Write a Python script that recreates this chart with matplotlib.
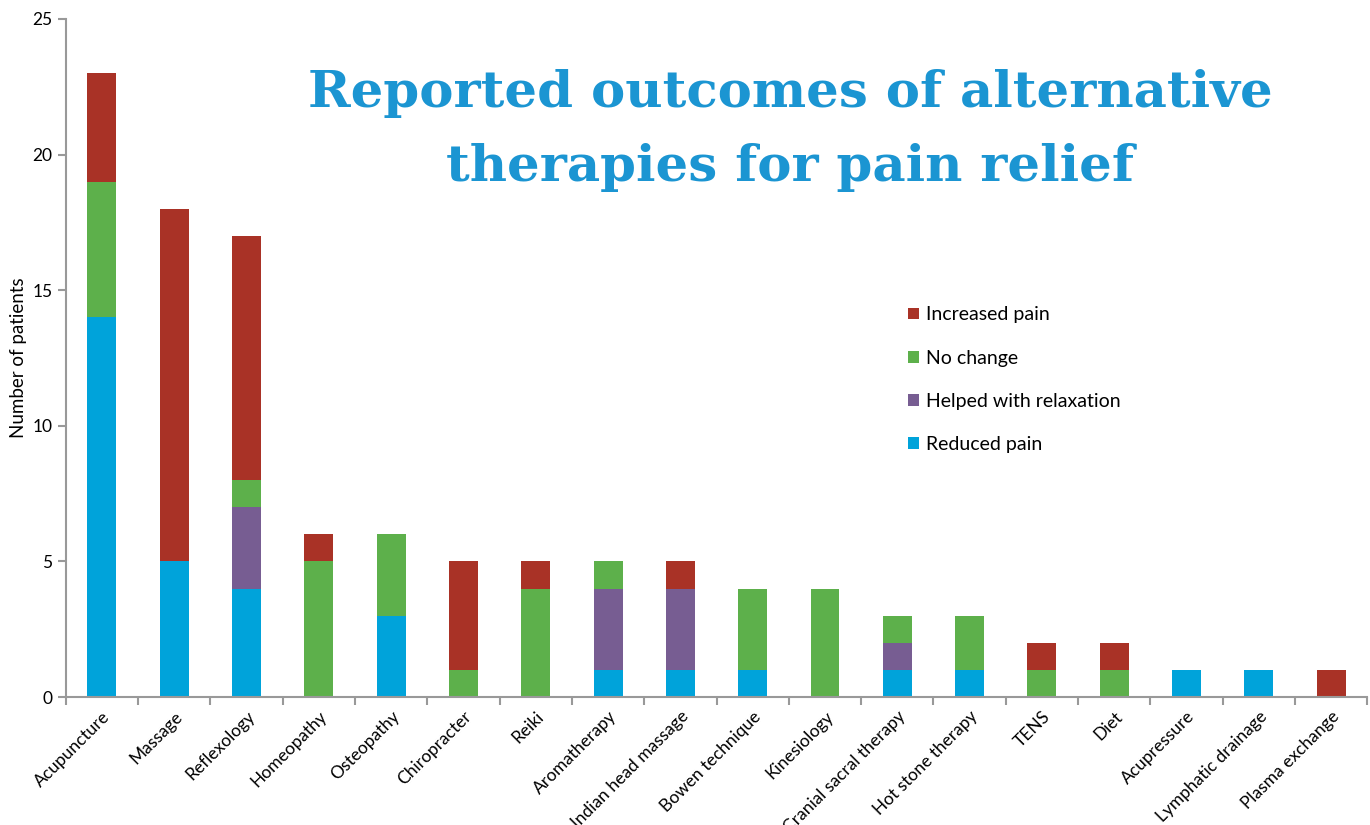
import matplotlib
matplotlib.use("Agg")
import matplotlib.pyplot as plt
import numpy as np

plt.rcParams['font.family'] = ['Lato', 'DejaVu Sans']

therapies = ['Acupuncture', 'Massage', 'Reflexology', 'Homeopathy', 'Osteopathy',
             'Chiropracter', 'Reiki', 'Aromatherapy', 'Indian head massage',
             'Bowen technique', 'Kinesiology', 'Cranial sacral therapy',
             'Hot stone therapy', 'TENS', 'Diet', 'Acupressure',
             'Lymphatic drainage', 'Plasma exchange']
reduced = [14, 5, 4, 0, 3, 0, 0, 1, 1, 1, 0, 1, 1, 0, 0, 1, 1, 0]
relaxation = [0, 0, 3, 0, 0, 0, 0, 3, 3, 0, 0, 1, 0, 0, 0, 0, 0, 0]
no_change = [5, 0, 1, 5, 3, 1, 4, 1, 0, 3, 4, 1, 2, 1, 1, 0, 0, 0]
increased = [4, 13, 9, 1, 0, 4, 1, 0, 1, 0, 0, 0, 0, 1, 1, 0, 0, 1]

series = [('Reduced pain', reduced, '#00a3da'),
          ('Helped with relaxation', relaxation, '#775d92'),
          ('No change', no_change, '#5db04b'),
          ('Increased pain', increased, '#a93226')]

fig = plt.figure(figsize=(13.7, 8.25), dpi=100)
ax = fig.add_axes([0.048, 0.155, 0.95, 0.822])

x = np.arange(len(therapies))
bottom = np.zeros(len(therapies))
handles = {}
for name, vals, col in series:
    b = ax.bar(x, vals, 0.4, bottom=bottom, color=col, label=name)
    handles[name] = b
    bottom += np.array(vals)

ax.set_xlim(-0.5, len(therapies) - 0.5)
ax.set_ylim(0, 25)
ax.set_yticks([0, 5, 10, 15, 20, 25])
ax.set_xticks(x)
ax.set_xticklabels(therapies, rotation=45, ha='right', rotation_mode='anchor', fontsize=12.5)
ax.tick_params(axis='x', length=0, pad=8)
ax.set_xticks(np.arange(len(therapies) + 1) - 0.5, minor=True)
ax.tick_params(axis='x', which='minor', length=6, color='#999999', width=1.5)
ax.tick_params(axis='y', length=6, color='#999999', width=1.5, labelsize=12.5)
for s in ['top', 'right']:
    ax.spines[s].set_visible(False)
for s in ['left', 'bottom']:
    ax.spines[s].set_color('#999999')
    ax.spines[s].set_linewidth(1.5)
ax.set_ylabel('Number of patients', fontsize=13.5)

order = ['Increased pain', 'No change', 'Helped with relaxation', 'Reduced pain']
ax.legend([handles[n] for n in order], order, loc='upper left',
          bbox_to_anchor=(0.634, 0.602), frameon=False, fontsize=14,
          handlelength=0.55, handleheight=0.55, handletextpad=0.35, labelspacing=1.35)

fig.text(0.577, 0.842, 'Reported outcomes of alternative\ntherapies for pain relief',
         ha='center', va='center', fontsize=37, color='#1b95d2',
         family='DejaVu Serif', fontweight='bold', linespacing=1.65)

fig.savefig('out.png', dpi=100)
